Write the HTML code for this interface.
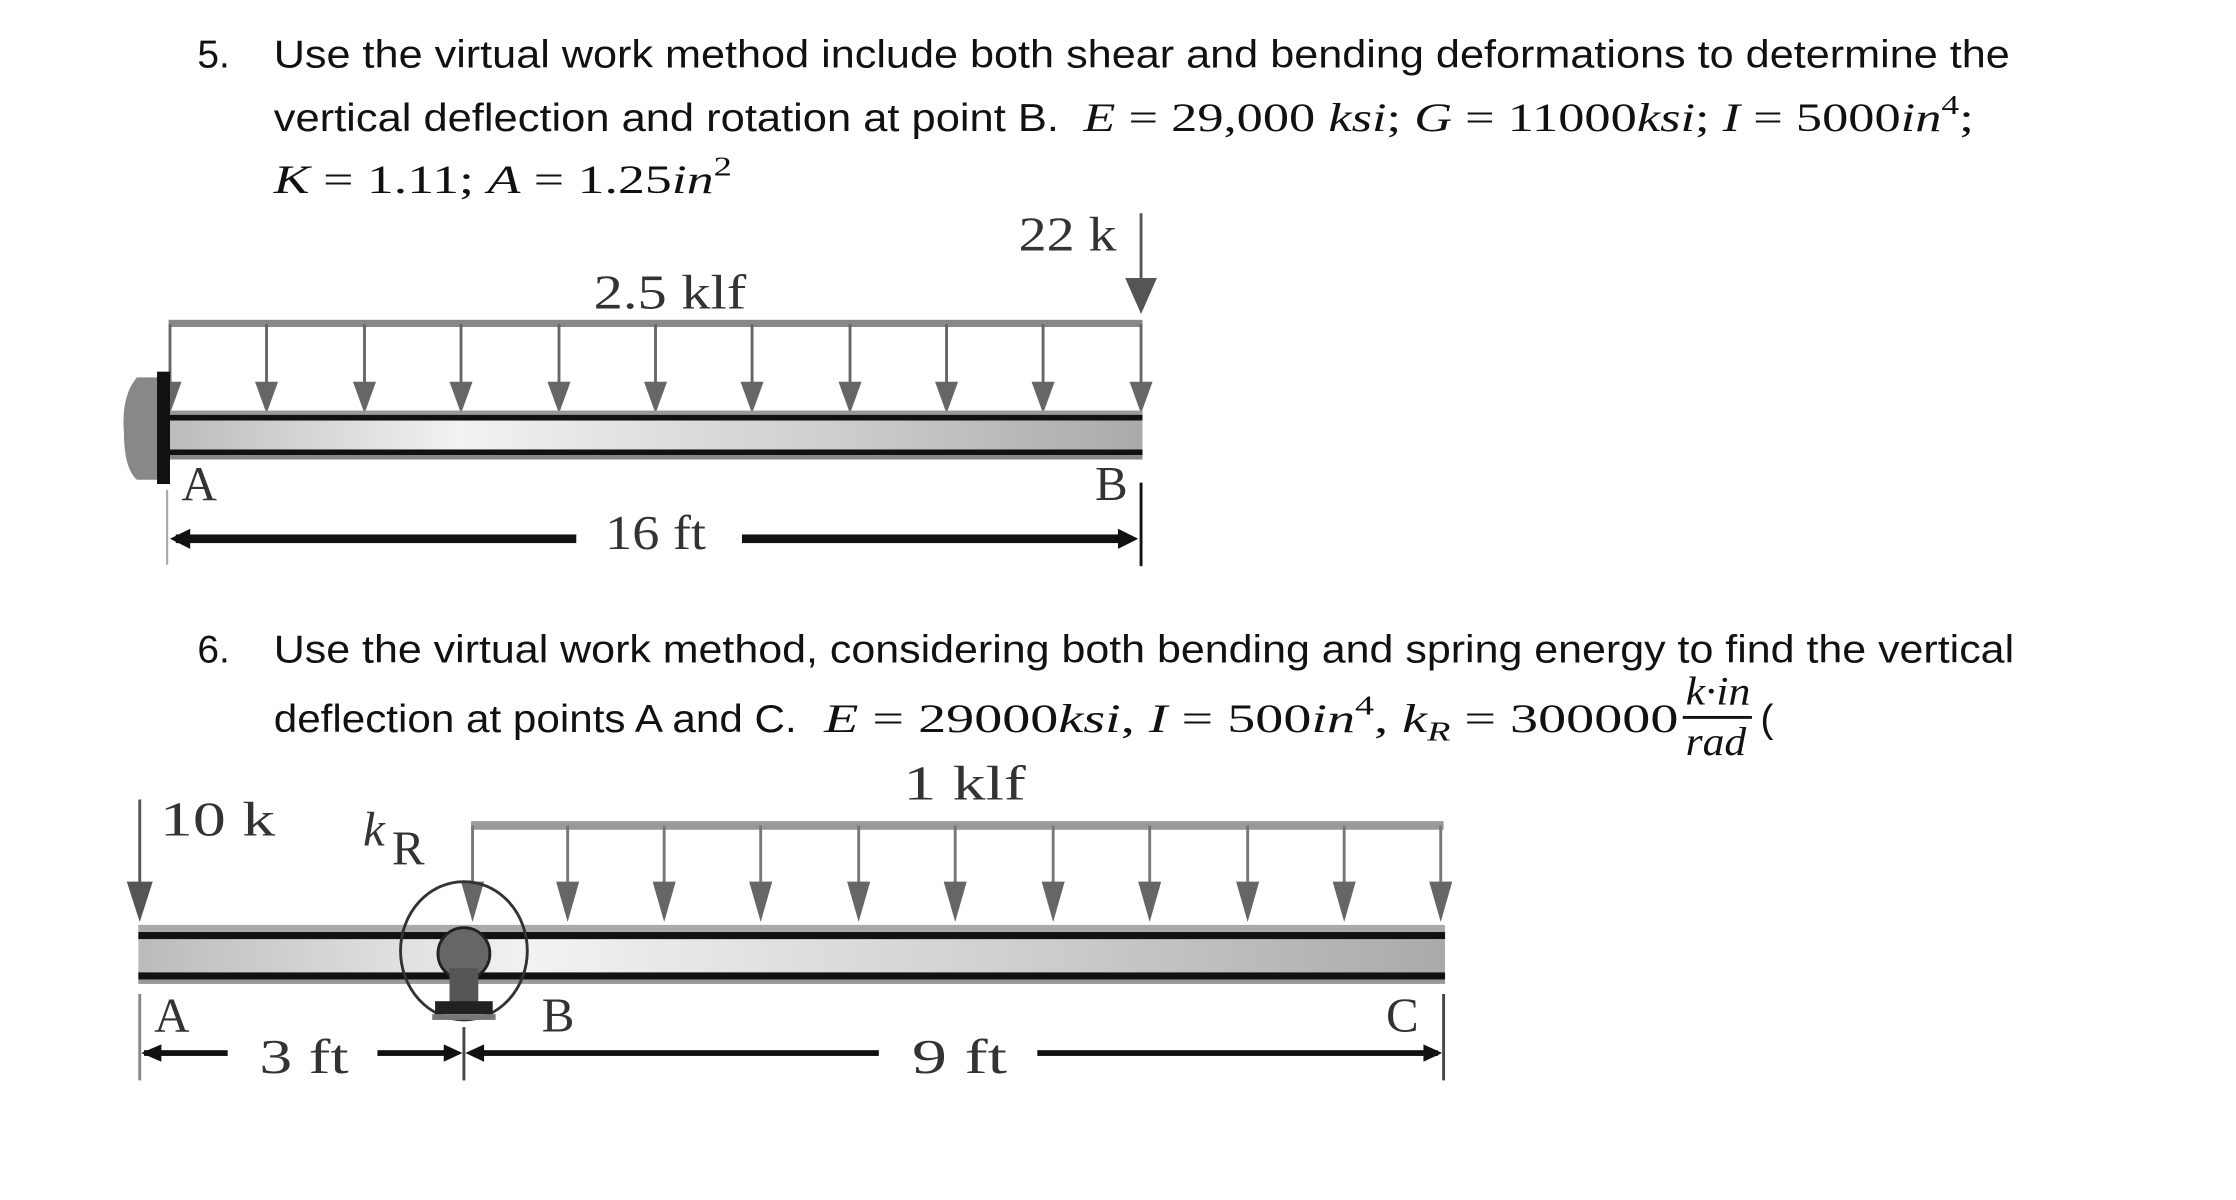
<!DOCTYPE html>
<html><head><meta charset="utf-8"><style>
html,body{margin:0;padding:0;background:#fff;}
svg{display:block;}
.t{font-family:"Liberation Sans",sans-serif;font-size:27px;fill:#111;}
.m{font-family:"Liberation Serif",serif;font-size:28px;fill:#111;}
.s{font-family:"Liberation Serif",serif;font-size:34px;fill:#333;}
</style></head><body>
<svg width="2236" height="1200" viewBox="0 0 1552 833" preserveAspectRatio="none" xmlns="http://www.w3.org/2000/svg">
<defs>
<linearGradient id="g" x1="0" y1="0" x2="0" y2="1">
<stop offset="0" stop-color="#888"/><stop offset="0.5" stop-color="#eee"/><stop offset="1" stop-color="#999"/>
</linearGradient>
<linearGradient id="gh" x1="0" y1="0" x2="1" y2="0">
<stop offset="0" stop-color="#bbb"/><stop offset="0.3" stop-color="#f2f2f2"/><stop offset="0.7" stop-color="#ccc"/><stop offset="1" stop-color="#aaa"/>
</linearGradient>
<marker id="ah" viewBox="0 0 10 10" refX="5" refY="10" markerWidth="16" markerHeight="20" markerUnits="userSpaceOnUse" orient="auto-start-reverse"></marker>
</defs>

<!-- Problem 5 text -->
<text class="t" x="137" y="47">5.</text>
<text class="t" x="190" y="47" textLength="1205" lengthAdjust="spacingAndGlyphs">Use the virtual work method include both shear and bending deformations to determine the</text>
<text class="t" x="190" y="91" textLength="545" lengthAdjust="spacingAndGlyphs">vertical deflection and rotation at point B.</text>
<text class="m" x="752" y="91" textLength="618" lengthAdjust="spacingAndGlyphs"><tspan font-style="italic">E</tspan> = 29,000 <tspan font-style="italic">ksi</tspan>; <tspan font-style="italic">G</tspan> = 11000<tspan font-style="italic">ksi</tspan>; <tspan font-style="italic">I</tspan> = 5000<tspan font-style="italic">in</tspan><tspan dy="-12" font-size="19">4</tspan><tspan dy="12">;</tspan></text>
<text class="m" x="190" y="134" textLength="318" lengthAdjust="spacingAndGlyphs"><tspan font-style="italic">K</tspan> = 1.11;  <tspan font-style="italic">A</tspan> = 1.25<tspan font-style="italic">in</tspan><tspan dy="-12" font-size="19">2</tspan></text>

<!-- Diagram 1 -->
<text class="s" x="707" y="174" textLength="68" lengthAdjust="spacingAndGlyphs">22 k</text>
<line x1="792" y1="148" x2="792" y2="200" stroke="#555" stroke-width="2"/>
<polygon points="781,193 803,193 792,218" fill="#555"/>
<text class="s" x="412" y="214" textLength="106" lengthAdjust="spacingAndGlyphs">2.5 klf</text>
<rect x="117" y="222" width="676" height="5" fill="#888"/>
<g stroke="#666" stroke-width="2" fill="#666">
<line x1="118" y1="225" x2="118" y2="280"/><line x1="185" y1="225" x2="185" y2="280"/><line x1="253" y1="225" x2="253" y2="280"/><line x1="320" y1="225" x2="320" y2="280"/><line x1="388" y1="225" x2="388" y2="280"/><line x1="455" y1="225" x2="455" y2="280"/><line x1="522" y1="225" x2="522" y2="280"/><line x1="590" y1="225" x2="590" y2="280"/><line x1="657" y1="225" x2="657" y2="280"/><line x1="724" y1="225" x2="724" y2="280"/><line x1="792" y1="225" x2="792" y2="280"/>
</g>
<g fill="#666">
<polygon points="110,265 126,265 118,287"/><polygon points="177,265 193,265 185,287"/><polygon points="245,265 261,265 253,287"/><polygon points="312,265 328,265 320,287"/><polygon points="380,265 396,265 388,287"/><polygon points="447,265 463,265 455,287"/><polygon points="514,265 530,265 522,287"/><polygon points="582,265 598,265 590,287"/><polygon points="649,265 665,265 657,287"/><polygon points="716,265 732,265 724,287"/><polygon points="784,265 800,265 792,287"/>
</g>
<rect x="117" y="285" width="676" height="4" fill="#999"/>
<rect x="117" y="288" width="676" height="4" fill="#111"/>
<rect x="117" y="292" width="676" height="20" fill="url(#gh)"/>
<rect x="117" y="312" width="676" height="4" fill="#111"/>
<rect x="117" y="316" width="676" height="3" fill="#888"/>
<path d="M95,262 Q84,275 86,300 Q86,325 95,333 L110,333 L110,262 Z" fill="#888"/>
<rect x="109" y="258" width="9" height="78" fill="#111"/>
<text class="s" x="126" y="347" font-size="30">A</text>
<text class="s" x="760" y="347" font-size="30">B</text>
<line x1="792" y1="335" x2="792" y2="393" stroke="#111" stroke-width="2"/>
<line x1="116" y1="340" x2="116" y2="392" stroke="#aaa" stroke-width="1.5"/>
<rect x="122" y="371" width="278" height="6" fill="#111"/>
<rect x="515" y="371" width="268" height="6" fill="#111"/>
<polygon points="118,374 132,367 132,381" fill="#111"/>
<polygon points="790,374 776,367 776,381" fill="#111"/>
<text class="s" x="420" y="381" textLength="70" lengthAdjust="spacingAndGlyphs">16 ft</text>

<!-- Problem 6 text -->
<text class="t" x="137" y="460">6.</text>
<text class="t" x="190" y="460" textLength="1208" lengthAdjust="spacingAndGlyphs">Use the virtual work method, considering both bending and spring energy to find the vertical</text>
<text class="t" x="190" y="508" textLength="363" lengthAdjust="spacingAndGlyphs">deflection at points A and C.</text>
<text class="m" x="572" y="508" textLength="593" lengthAdjust="spacingAndGlyphs"><tspan font-style="italic">E</tspan> = 29000<tspan font-style="italic">ksi</tspan>,  <tspan font-style="italic">I</tspan> = 500<tspan font-style="italic">in</tspan><tspan dy="-12" font-size="19">4</tspan><tspan dy="12">,  </tspan><tspan font-style="italic">k</tspan><tspan dy="6" font-size="19" font-style="italic">R</tspan><tspan dy="-6"> = 300000</tspan></text>
<text class="m" x="1170" y="489" font-size="21" font-style="italic" textLength="45" lengthAdjust="spacingAndGlyphs">k·in</text>
<rect x="1168" y="497" width="48" height="2" fill="#111"/>
<text class="m" x="1170" y="524" font-size="21" font-style="italic" textLength="42" lengthAdjust="spacingAndGlyphs">rad</text>
<text class="t" x="1222" y="508">(</text>

<!-- Diagram 2 -->
<text class="s" x="627" y="555" font-size="40" textLength="85" lengthAdjust="spacingAndGlyphs">1 klf</text>
<text class="s" x="111" y="580" font-size="38" textLength="80" lengthAdjust="spacingAndGlyphs">10 k</text>
<text class="s" x="252" y="587" font-size="34" font-style="italic">k</text>
<text class="s" x="272" y="600" font-size="24">R</text>
<line x1="97" y1="555" x2="97" y2="620" stroke="#555" stroke-width="2"/>
<polygon points="88,612 106,612 97,640" fill="#555"/>
<rect x="327" y="570" width="675" height="6" fill="#999"/>
<g stroke="#777" stroke-width="2">
<line x1="328" y1="573" x2="328" y2="630"/><line x1="394" y1="573" x2="394" y2="630"/><line x1="461" y1="573" x2="461" y2="630"/><line x1="528" y1="573" x2="528" y2="630"/><line x1="596" y1="573" x2="596" y2="630"/><line x1="663" y1="573" x2="663" y2="630"/><line x1="731" y1="573" x2="731" y2="630"/><line x1="798" y1="573" x2="798" y2="630"/><line x1="866" y1="573" x2="866" y2="630"/><line x1="933" y1="573" x2="933" y2="630"/><line x1="1000" y1="573" x2="1000" y2="630"/>
</g>
<g fill="#666">
<polygon points="320,612 336,612 328,640"/><polygon points="386,612 402,612 394,640"/><polygon points="453,612 469,612 461,640"/><polygon points="520,612 536,612 528,640"/><polygon points="588,612 604,612 596,640"/><polygon points="655,612 671,612 663,640"/><polygon points="723,612 739,612 731,640"/><polygon points="790,612 806,612 798,640"/><polygon points="858,612 874,612 866,640"/><polygon points="925,612 941,612 933,640"/><polygon points="992,612 1008,612 1000,640"/>
</g>
<rect x="96" y="642" width="907" height="6" fill="#aaa"/>
<rect x="96" y="647" width="907" height="5" fill="#111"/>
<rect x="96" y="652" width="907" height="23" fill="url(#gh)"/>
<rect x="96" y="675" width="907" height="5" fill="#111"/>
<rect x="96" y="680" width="907" height="3" fill="#999"/>
<ellipse cx="322" cy="660" rx="44" ry="48" fill="none" stroke="#333" stroke-width="2"/>
<circle cx="322" cy="662" r="18" fill="#666" stroke="#222" stroke-width="2"/>
<rect x="312" y="672" width="20" height="25" fill="#555"/>
<rect x="302" y="695" width="40" height="9" fill="#222"/>
<rect x="300" y="704" width="44" height="4" fill="#777"/>
<text class="s" x="107" y="716" font-size="32">A</text>
<text class="s" x="376" y="716" font-size="32">B</text>
<text class="s" x="962" y="716" font-size="32">C</text>
<line x1="97" y1="690" x2="97" y2="750" stroke="#888" stroke-width="2"/>
<line x1="322" y1="713" x2="322" y2="750" stroke="#444" stroke-width="2"/>
<line x1="1002" y1="690" x2="1002" y2="750" stroke="#444" stroke-width="2"/>
<rect x="100" y="729" width="58" height="4" fill="#111"/>
<rect x="262" y="729" width="50" height="4" fill="#111"/>
<rect x="332" y="729" width="278" height="4" fill="#111"/>
<rect x="720" y="729" width="278" height="4" fill="#111"/>
<polygon points="98,731 112,725 112,737" fill="#111"/>
<polygon points="321,731 308,725 308,737" fill="#111"/>
<polygon points="323,731 336,725 336,737" fill="#111"/>
<polygon points="1001,731 988,725 988,737" fill="#111"/>
<text class="s" x="180" y="745" font-size="38" textLength="62" lengthAdjust="spacingAndGlyphs">3 ft</text>
<text class="s" x="633" y="745" font-size="38" textLength="66" lengthAdjust="spacingAndGlyphs">9 ft</text>
</svg>
</body></html>
